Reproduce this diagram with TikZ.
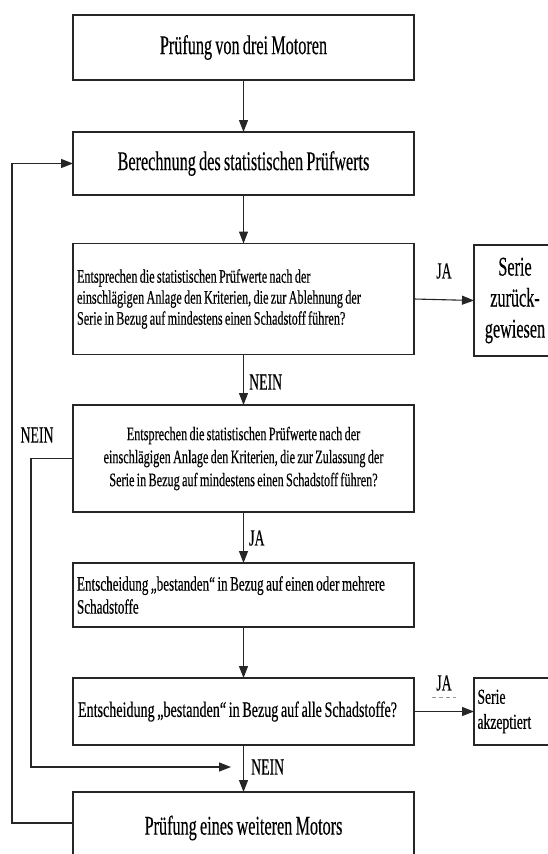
\documentclass[tikz,border=0pt]{standalone}
\usepackage{fontspec}
\setmainfont{Liberation Serif}
\newfontfamily\tallfont[FakeStretch=0.6, FakeBold=0.3, WordSpace=0.8]{Liberation Serif}
\newfontfamily\narrowfont[FakeStretch=0.64, FakeBold=0.3, WordSpace=0.75]{Liberation Serif}
\usetikzlibrary{arrows.meta,calc}

% one unbreakable, left-aligned line of fixed width
\newcommand{\fixline}[1]{\makebox[333pt][l]{#1}}

\tikzset{
  box/.style={draw=black!85, line width=1.5pt, minimum width=341pt, inner sep=0pt, outer sep=0pt},
  sidebox/.style={draw=black!85, line width=1.5pt, minimum width=82pt, inner sep=0pt, outer sep=0pt},
  bigtext/.style={font=\tallfont\fontsize{27}{31}\selectfont},
  lbl/.style={font=\tallfont\fontsize{23}{25}\selectfont, inner sep=0pt},
  conn/.style={draw=black!85, line width=1.1pt},
  arr/.style={conn, -{Triangle[length=12pt,width=9pt]}},
}

\begin{document}
\begin{tikzpicture}[x=1pt,y=-1pt]
\useasboundingbox (0,0) rectangle (548,854);
\fill[white] (0,0) rectangle (548,854);
\clip (0,0) rectangle (548,854);

% main column
\node[box, bigtext, minimum height=65pt] (b1) at (243.5,47.5) {Prüfung von drei Motoren};
\node[box, bigtext, minimum height=63pt] (b2) at (243.5,163.5) {Berechnung des statistischen Prüfwerts};
\node[box, minimum height=111pt, inner xsep=4pt, align=left,
      font=\narrowfont\fontsize{19.1}{21}\selectfont] (b3) at (243.5,299)
  {\fixline{Entsprechen die statistischen Prüfwerte nach der}\\
   einschlägigen Anlage den Kriterien, die zur Ablehnung der\\
   Serie in Bezug auf mindestens einen Schadstoff führen?};
\node[box, minimum height=107pt, align=center,
      font=\narrowfont\fontsize{19.1}{23}\selectfont] (b4) at (243.5,458.5)
  {Entsprechen die statistischen Prüfwerte nach der\\
   einschlägigen Anlage den Kriterien, die zur Zulassung der\\
   Serie in Bezug auf mindestens einen Schadstoff führen?};
\node[box, minimum height=64pt, inner xsep=4pt, align=left,
      font=\narrowfont\fontsize{20.5}{23}\selectfont] (b5) at (243.5,595)
  {\fixline{Entscheidung „bestanden“ in Bezug auf einen oder mehrere}\\ Schadstoffe};
\node[box, minimum height=67pt, align=center,
      font=\narrowfont\fontsize{22}{24}\selectfont] (b6) at (243.5,711.5)
  {Entscheidung „bestanden“ in Bezug auf alle Schadstoffe?\hspace*{12pt}};
\node[box, bigtext, minimum height=72pt] (b7) at (243.5,828) {Prüfung eines weiteren Motors};

% outcome boxes on the right
\node[sidebox, minimum height=111pt, align=center,
      font=\tallfont\fontsize{27}{31}\selectfont] (s1) at (515,300.5)
  {Serie\\ zurück-\\ gewiesen};
\node[sidebox, minimum height=67pt, text width=75pt, inner xsep=3.5pt, align=left,
      font=\narrowfont\fontsize{21.3}{25}\selectfont] (s2) at (515,711.5)
  {Serie\\ akzeptiert};

% branch labels
\node[lbl] (ja1) at (444,271) {JA};
\node[lbl, anchor=west] (nein1) at (249,382) {NEIN};
\node[lbl] (nein2) at (37,435) {NEIN};
\node[lbl, anchor=west] (ja2) at (249,538) {JA};
\node[lbl] (ja3) at (444,683) {JA};
\node[lbl, anchor=west] (nein3) at (251,767) {NEIN};
\draw[black!40, line width=0.6pt, dash pattern=on 4pt off 3pt]
  ($(ja3.south)+(-12,6)$) -- ++(24,0);

% helper points for the loop-backs
\coordinate (merge) at (231,767);
\coordinate (innerx) at (31,0);
\coordinate (outerx) at (12,0);

% connectors
\draw[arr] (b1) -- (b2);
\draw[arr] (b2) -- (b3);
\draw[arr] (b3) -- (b4);
\draw[arr] (b4) -- (b5);
\draw[arr] (b5) -- (b6);
\draw[arr] (b6) -- (b7);
\draw[arr] (b3.east) -- (s1.west);
\draw[arr] (b6.east) -- (s2.west);
\draw[arr] (b4.west) -| (innerx |- merge) -- (merge);
\draw[arr] ($(b7.north west)+(0,31)$) -| (outerx |- b2.west) -- (b2.west);
\end{tikzpicture}
\end{document}
